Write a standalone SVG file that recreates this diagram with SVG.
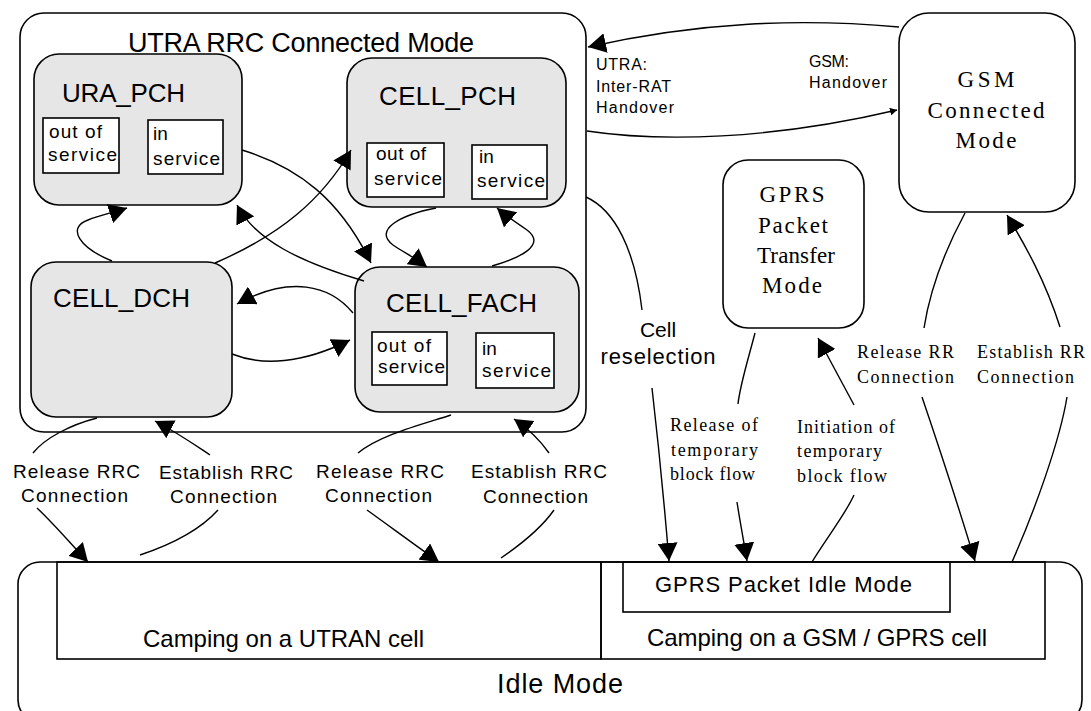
<svg xmlns="http://www.w3.org/2000/svg" width="1091" height="711" viewBox="0 0 1091 711">
<defs>
<style>
.box{fill:none;stroke:#000;stroke-width:1.6}
.gray{fill:#e6e6e6;stroke:#000;stroke-width:1.6}
.wbox{fill:#fff;stroke:#000;stroke-width:1.6}
.c{fill:none;stroke:#000;stroke-width:1.4}
.a{marker-end:url(#ah)}
.as{marker-end:url(#ahs)}
.sans{font-family:"Liberation Sans",Arial,sans-serif;fill:#000}
.serif{font-family:"Liberation Serif","Times New Roman",serif;fill:#000}
.big{font-size:26px}
.svc{font-size:19px}
.lbl{font-size:19px}
.ho{font-size:16px}
.ser23{font-size:23px}
.ser18{font-size:18px}
</style>
<marker id="ah" markerWidth="20" markerHeight="20" refX="18" refY="10" orient="auto" markerUnits="userSpaceOnUse">
<path d="M0,0 L18,10 L0,20 z" fill="#000"/>
</marker>
<marker id="ahs" markerWidth="8" markerHeight="8" refX="7" refY="4" orient="auto" markerUnits="userSpaceOnUse">
<path d="M0,0 L7,4 L0,8 z" fill="#000"/>
</marker>
</defs>
<rect width="1091" height="711" fill="#fff"/>

<g id="utra-rrc-connected-mode">
<rect class="box" x="20" y="13" width="566" height="419" rx="24" ry="24"/>
<text class="sans" x="128" y="52" font-size="27" textLength="346">UTRA RRC Connected Mode</text>
</g>

<g id="ura-pch">
<rect class="gray" x="34" y="54" width="208" height="151" rx="25" ry="25"/>
<text class="sans big" x="62" y="102" textLength="123">URA_PCH</text>
<rect class="wbox" x="43" y="118" width="76" height="55"/>
<text class="sans svc" x="49" y="138" textLength="53">out of</text>
<text class="sans svc" x="48" y="161" textLength="69">service</text>
<rect class="wbox" x="148" y="120" width="75" height="54"/>
<text class="sans svc" x="153" y="140">in</text>
<text class="sans svc" x="153" y="165" textLength="67">service</text>
</g>

<g id="cell-pch">
<rect class="gray" x="347" y="58" width="219" height="149" rx="25" ry="25"/>
<text class="sans big" x="379" y="105" textLength="137">CELL_PCH</text>
<rect class="wbox" x="367" y="143" width="77" height="54"/>
<text class="sans svc" x="376" y="160" textLength="50">out of</text>
<text class="sans svc" x="374" y="185" textLength="68">service</text>
<rect class="wbox" x="472" y="145" width="75" height="54"/>
<text class="sans svc" x="479" y="163">in</text>
<text class="sans svc" x="477" y="187" textLength="68">service</text>
</g>

<g id="cell-dch">
<rect class="gray" x="31" y="262" width="201" height="155" rx="25" ry="25"/>
<text class="sans big" x="53" y="307" textLength="137">CELL_DCH</text>
</g>

<g id="cell-fach">
<rect class="gray" x="355" y="267" width="224" height="145" rx="25" ry="25"/>
<text class="sans big" x="386" y="312" textLength="151">CELL_FACH</text>
<rect class="wbox" x="372" y="332" width="75" height="53"/>
<text class="sans svc" x="377" y="352" textLength="54">out of</text>
<text class="sans svc" x="378" y="373" textLength="67">service</text>
<rect class="wbox" x="476" y="333" width="78" height="55"/>
<text class="sans svc" x="482" y="355">in</text>
<text class="sans svc" x="482" y="377" textLength="69">service</text>
</g>

<g id="gsm-connected-mode">
<rect class="box" x="899" y="13" width="176" height="199" rx="30" ry="30"/>
<text class="serif ser23" x="986" y="87" text-anchor="middle" textLength="57">GSM</text>
<text class="serif ser23" x="986" y="118" text-anchor="middle" textLength="117">Connected</text>
<text class="serif ser23" x="986" y="148" text-anchor="middle" textLength="61">Mode</text>
</g>

<g id="gprs-packet-transfer-mode">
<rect class="box" x="723" y="160" width="141" height="168" rx="25" ry="25"/>
<text class="serif ser23" x="792" y="202" text-anchor="middle" textLength="65">GPRS</text>
<text class="serif ser23" x="793" y="233" text-anchor="middle" textLength="70">Packet</text>
<text class="serif ser23" x="796" y="263" text-anchor="middle" textLength="78">Transfer</text>
<text class="serif ser23" x="792" y="293" text-anchor="middle" textLength="60">Mode</text>
</g>

<g id="idle-mode">
<rect class="box" x="18" y="562" width="1064" height="160" rx="22" ry="22"/>
<rect class="box" x="57" y="562" width="544" height="97"/>
<rect class="box" x="601" y="562" width="444" height="97"/>
<rect class="box" x="623" y="562" width="327" height="50"/>
<text class="sans" x="655" y="592" font-size="22" textLength="257">GPRS Packet Idle Mode</text>
<text class="sans" x="143" y="647" font-size="24" textLength="281">Camping on a UTRAN cell</text>
<text class="sans" x="647" y="646" font-size="24" textLength="340">Camping on a GSM / GPRS cell</text>
<text class="sans" x="497" y="693" font-size="27" textLength="126">Idle Mode</text>
</g>

<g id="connectors">
<path class="c a" d="M899,27 C800,18 700,22 588,47"/>
<path class="c as" d="M587,131 C660,142 770,140 897,110"/>
<path class="c a" d="M112,261 C80,248 66,228 88,220 C100,215 112,213 127,208"/>
<path class="c a" d="M242,150 C300,168 340,200 371,263"/>
<path class="c a" d="M215,263 C280,235 322,200 351,150"/>
<path class="c a" d="M364,281 C300,262 255,240 237,205"/>
<path class="c a" d="M353,313 C330,285 290,275 237,304"/>
<path class="c a" d="M232,354 C262,366 302,364 350,340"/>
<path class="c a" d="M436,208 C400,215 373,230 393,245 C405,253 415,258 427,267"/>
<path class="c a" d="M492,266 C520,258 547,245 527,230 C515,222 505,215 497,208"/>
<path class="c" d="M97,418 C70,425 45,438 33,453"/>
<path class="c a" d="M37,508 C55,525 70,543 88,562"/>
<path class="c" d="M140,555 C170,545 200,530 218,510"/>
<path class="c a" d="M210,455 C195,445 178,433 155,421"/>
<path class="c" d="M451,415 C420,425 380,435 358,453"/>
<path class="c a" d="M367,510 C392,528 415,545 439,562"/>
<path class="c" d="M501,558 C520,545 540,530 554,510"/>
<path class="c a" d="M549,453 C540,440 530,430 514,419"/>
<path class="c" d="M586,197 C615,210 635,250 642,310"/>
<path class="c a" d="M652,388 C658,440 664,500 669,561"/>
<path class="c" d="M755,333 C748,360 740,385 738,404"/>
<path class="c a" d="M737,502 C740,522 744,542 747,561"/>
<path class="c" d="M812,562 C825,540 845,515 854,495"/>
<path class="c a" d="M854,405 C842,383 830,360 818,338"/>
<path class="c" d="M965,213 C945,250 930,290 924,328"/>
<path class="c a" d="M922,397 C940,450 958,505 975,561"/>
<path class="c" d="M1012,562 C1035,510 1060,440 1067,397"/>
<path class="c a" d="M1060,327 C1045,280 1025,245 1007,215"/>
</g>

<g id="labels">
<text class="sans ho" x="596" y="70" textLength="51">UTRA:</text>
<text class="sans ho" x="596" y="92" textLength="75">Inter-RAT</text>
<text class="sans ho" x="596" y="113" textLength="78">Handover</text>
<text class="sans ho" x="809" y="67" textLength="40">GSM:</text>
<text class="sans ho" x="809" y="88" textLength="78">Handover</text>

<text class="sans lbl" x="13" y="478" textLength="127">Release RRC</text>
<text class="sans lbl" x="21" y="502" textLength="107">Connection</text>
<text class="sans lbl" x="159" y="479" textLength="134">Establish RRC</text>
<text class="sans lbl" x="170" y="503" textLength="107">Connection</text>
<text class="sans lbl" x="316" y="478" textLength="128">Release RRC</text>
<text class="sans lbl" x="325" y="502" textLength="107">Connection</text>
<text class="sans lbl" x="471" y="478" textLength="136">Establish RRC</text>
<text class="sans lbl" x="483" y="503" textLength="105">Connection</text>

<text class="sans" x="658" y="337" font-size="21" text-anchor="middle">Cell</text>
<text class="sans" x="658" y="364" font-size="22" text-anchor="middle" textLength="115">reselection</text>

<text class="serif ser18" x="670" y="431" textLength="88">Release of</text>
<text class="serif ser18" x="671" y="456" textLength="87">temporary</text>
<text class="serif ser18" x="670" y="480" textLength="85">block flow</text>
<text class="serif ser18" x="797" y="433" textLength="98">Initiation of</text>
<text class="serif ser18" x="797" y="457" textLength="85">temporary</text>
<text class="serif ser18" x="797" y="482" textLength="90">block flow</text>
<text class="serif ser18" x="857" y="358" textLength="97">Release RR</text>
<text class="serif ser18" x="857" y="383" textLength="97">Connection</text>
<text class="serif ser18" x="977" y="358" textLength="108">Establish RR</text>
<text class="serif ser18" x="977" y="383" textLength="97">Connection</text>
</g>
</svg>
